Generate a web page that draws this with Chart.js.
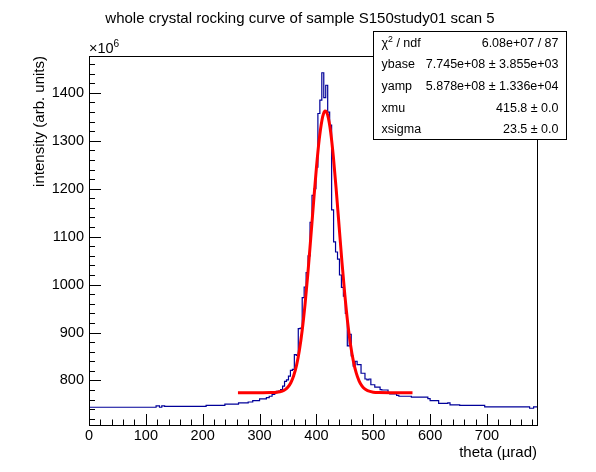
<!DOCTYPE html>
<html>
<head>
<meta charset="utf-8">
<title>whole crystal rocking curve</title>
<script src="https://cdn.jsdelivr.net/npm/chart.js@4.4.1/dist/chart.umd.min.js"></script>
<style>
  html, body { margin: 0; padding: 0; background: #fff; }
  canvas { display: block; }
</style>
</head>
<body>
<canvas id="myChart" width="596" height="472"></canvas>
<script>
// histogram: left edge of each bin (µrad) and its content (x10^6)
const binStart = [
    0, 118, 124, 128, 133, 206, 239, 263, 280, 288, 300, 312, 317, 322, 326.7,
    330.15, 333.6, 337.05, 340.5, 343.95, 347.4, 350.85, 354.3, 357.75, 361.2,
    364.65, 368.1, 371.55, 375, 378.45, 381.9, 385.35, 388.8, 392.25, 395.7,
    399.15, 402.6, 406.05, 409.5, 412.95, 416.4, 419.85, 423.3, 426.75, 430.2,
    433.65, 437.1, 440.55, 444, 447.45, 450.9, 454.35, 457.8, 461.25, 464.7,
    468.15, 471.6, 475.05, 478.5, 481.95, 485.4, 488.85, 492.3, 495.75, 499.2,
    502.65, 512, 515, 526, 529, 541, 545, 567, 596, 600, 615, 631, 635, 652,
    696, 775, 782
];
const binValue = [
    744, 747, 744, 747, 746, 748, 750.5, 753, 755, 758, 761.7, 764, 767, 770.7, 774,
    777, 778, 781, 788, 798, 801, 809, 821, 823, 854,
    852, 908, 909, 973, 995, 1025, 1060, 1130, 1186, 1200,
    1245, 1357, 1385, 1442, 1390, 1416, 1360, 1333, 1156, 1089,
    1068, 1053, 1020, 994, 976, 940, 872, 896, 851, 830,
    840, 833, 833, 815, 815, 803, 801, 803, 791, 791,
    786, 781, 780, 774, 772, 769, 767, 765, 762, 758, 752, 753, 749, 748,
    745, 742, 745
];
const thetaMax = 788;

// fitted curve
const fitTheta = [262, 300, 320, 330, 340, 345, 350, 355, 360, 365, 370, 375, 380, 385, 390,
    395, 400, 405, 410, 412.5, 415, 417.5, 420, 425, 430, 435, 440, 445, 450, 455, 460,
    465, 470, 475, 480, 485, 490, 500, 510, 530, 569];
const fitValue = [774.5, 774.5, 774.6, 775.2, 777.7, 780.8, 786.2, 795.2, 809.6, 831.3, 862.5,
    904.7, 958.7, 1023.5, 1096.2, 1171.8, 1243.4, 1303.4, 1344.7, 1356.5, 1362.0, 1360.8,
    1353.0, 1319.0, 1264.2, 1195.5, 1120.4, 1046.1, 978.4, 920.7, 874.7, 840.2, 815.6,
    799.1, 788.6, 782.2, 778.5, 775.5, 774.7, 774.5, 774.5];

const xTicks = [0, 100, 200, 300, 400, 500, 600, 700];
const yTicks = [800, 900, 1000, 1100, 1200, 1300, 1400];

const statNames = ["χ^2 / ndf", "ybase", "yamp", "xmu", "xsigma"];
const statValues = ["6.08e+07 / 87", "7.745e+08 ± 3.855e+03", "5.878e+08 ± 1.336e+04",
    "415.8 ± 0.0", "23.5 ± 0.0"];

const FONT = "'Liberation Sans', Arial, Helvetica, sans-serif";

// draws "a^b" with b as superscript; align 'left' or 'right'
function drawSup(ctx, text, x, y, size, align) {
    const parts = text.split("^");
    let pieces = [{ t: parts[0], s: size, dy: 0 }];
    if (parts.length > 1) {
        pieces.push({ t: parts[1].charAt(0), s: size * 0.7, dy: -size * 0.4 });
        if (parts[1].length > 1) pieces.push({ t: parts[1].slice(1), s: size, dy: 0 });
    }
    let total = 0;
    pieces.forEach(p => {
        ctx.font = p.s + "px " + FONT;
        p.w = ctx.measureText(p.t).width;
        total += p.w;
    });
    let cx = align === "right" ? x - total : x;
    ctx.textAlign = "left";
    pieces.forEach(p => {
        ctx.font = p.s + "px " + FONT;
        ctx.fillText(p.t, cx, y + p.dy);
        cx += p.w;
    });
}

const rootFrame = {
    id: "rootFrame",
    afterDraw(chart) {
        const ctx = chart.ctx;
        const a = chart.chartArea;
        const xs = chart.scales.x;
        const ys = chart.scales.y;
        ctx.save();
        ctx.fillStyle = "#000";
        ctx.strokeStyle = "#000";
        ctx.lineWidth = 1;

        // frame
        ctx.strokeRect(a.left + 0.5, a.top + 0.5, a.right - a.left, a.bottom - a.top);

        // x ticks (every 20, labelled every 100)
        ctx.beginPath();
        for (let v = 0; v <= xs.max; v += 20) {
            const px = Math.round(xs.getPixelForValue(v)) + 0.5;
            const len = v % 100 === 0 ? 11 : 5.5;
            ctx.moveTo(px, a.bottom);
            ctx.lineTo(px, a.bottom - len);
        }
        // y ticks
        for (let v = 720; v <= ys.max; v += 20) {
            const py = Math.round(ys.getPixelForValue(v)) + 0.5;
            const len = v % 100 === 0 ? 12 : 6;
            ctx.moveTo(a.left, py);
            ctx.lineTo(a.left + len, py);
        }
        ctx.stroke();

        ctx.font = "14.5px " + FONT;
        ctx.textAlign = "center";
        ctx.textBaseline = "top";
        xTicks.forEach(v => ctx.fillText(String(v), xs.getPixelForValue(v), a.bottom + 4));
        ctx.textAlign = "right";
        ctx.textBaseline = "middle";
        yTicks.forEach(v => ctx.fillText(String(v), a.left - 5, ys.getPixelForValue(v)));

        // exponent
        ctx.textBaseline = "alphabetic";
        drawSup(ctx, "×10^6", a.left, a.top - 3, 14.5, "left");

        // axis titles
        ctx.font = "15px " + FONT;
        ctx.textAlign = "right";
        ctx.fillText("theta (µrad)", a.right, 457);
        ctx.save();
        ctx.translate(44, a.top);
        ctx.rotate(-Math.PI / 2);
        ctx.textAlign = "right";
        ctx.fillText("intensity (arb. units)", 0, 0);
        ctx.restore();

        // title
        ctx.textAlign = "center";
        ctx.fillText("whole crystal rocking curve of sample S150study01 scan 5", 300, 23);

        // stats box
        const bx = 373.5, by = 31.5, bw = 193, bh = 108;
        ctx.fillStyle = "#fff";
        ctx.fillRect(bx, by, bw, bh);
        ctx.strokeRect(bx, by, bw, bh);
        ctx.fillStyle = "#000";
        const rowH = bh / statNames.length;
        statNames.forEach((name, i) => {
            const y = by + rowH * (i + 0.5) + 4.5;
            drawSup(ctx, name, bx + 8, y, 12.5, "left");
            ctx.font = "12.5px " + FONT;
            ctx.textAlign = "right";
            ctx.fillText(statValues[i], bx + bw - 8, y);
        });
        ctx.restore();
    }
};

function renderChart() {
    const histPoints = binStart.map((x, i) => ({ x: x, y: binValue[i] }));
    histPoints.push({ x: thetaMax, y: binValue[binValue.length - 1] });
    const fitPoints = fitTheta.map((x, i) => ({ x: x, y: fitValue[i] }));

    const ctx = document.getElementById("myChart").getContext("2d");
    new Chart(ctx, {
        type: "line",
        data: {
            datasets: [
                {
                    label: "fit",
                    data: fitPoints,
                    borderColor: "#ff0000",
                    borderWidth: 3,
                    pointRadius: 0,
                    cubicInterpolationMode: "monotone",
                    fill: false
                },
                {
                    label: "scan 5",
                    data: histPoints,
                    borderColor: "#000099",
                    borderWidth: 1.2,
                    pointRadius: 0,
                    stepped: "before",
                    fill: false
                }
            ]
        },
        options: {
            responsive: false,
            animation: false,
            devicePixelRatio: 1,
            layout: { padding: { left: 89, right: 59, top: 56, bottom: 47 } },
            plugins: { legend: { display: false }, tooltip: { enabled: false }, title: { display: false } },
            scales: {
                x: { type: "linear", min: 0, max: thetaMax, display: false },
                y: { type: "linear", min: 707, max: 1477, display: false }
            }
        },
        plugins: [rootFrame]
    });
}

document.addEventListener("DOMContentLoaded", renderChart);
</script>
</body>
</html>
